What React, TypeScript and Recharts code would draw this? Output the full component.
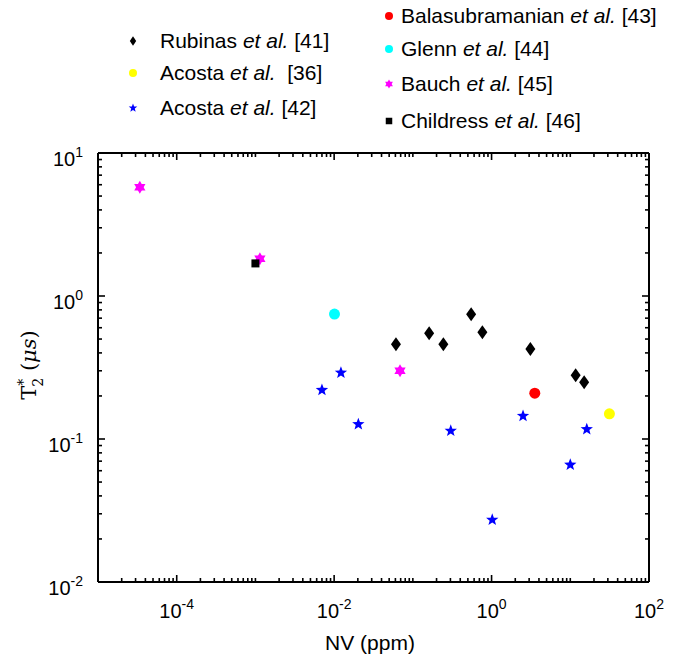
import React from "react";
import { ScatterChart, Scatter, XAxis, YAxis } from "recharts";

// NV concentration (ppm) vs T2* (us)
const rubinasNV = [0.061, 0.161, 0.244, 0.55, 0.764, 3.11, 11.7, 15.0];
const rubinasT2 = [0.459, 0.548, 0.459, 0.745, 0.557, 0.426, 0.279, 0.249];

const acosta36NV = [31.4];
const acosta36T2 = [0.15];

const acosta42NV = [0.007, 0.0122, 0.0203, 0.303, 1.02, 2.51, 10.0, 16.2];
const acosta42T2 = [0.22, 0.291, 0.127, 0.114, 0.0272, 0.145, 0.066, 0.117];

const balaNV = [3.54];
const balaT2 = [0.209];

const glennNV = [0.0101];
const glennT2 = [0.748];

const bauchNV = [3.4e-5, 0.00114, 0.0687];
const bauchT2 = [5.75, 1.82, 0.3];

const childressNV = [0.001];
const childressT2 = [1.69];

const xDomain = [1e-5, 100];
const yDomain = [0.01, 10];
const xLabelExps = [-4, -2, 0, 2];
const yLabelExps = [-2, -1, 0, 1];

const zip = (xs: number[], ys: number[]) => xs.map((x, i) => ({ x, y: ys[i] }));

function logTicks(lo: number, hi: number) {
  const out: number[] = [];
  const e0 = Math.round(Math.log10(lo));
  const e1 = Math.round(Math.log10(hi));
  for (let e = e0; e < e1; e++) {
    for (let m = 1; m <= 9; m++) out.push(m * Math.pow(10, e));
  }
  out.push(Math.pow(10, e1));
  return out;
}
const xTicks = logTicks(xDomain[0], xDomain[1]);
const yTicks = logTicks(yDomain[0], yDomain[1]);

const decade = (v: number) => {
  const l = Math.log10(v);
  return Math.abs(l - Math.round(l)) < 1e-6 ? Math.round(l) : null;
};

const FONT = "Arial, 'Liberation Sans', sans-serif";

// marker shapes
function Diamond({ cx, cy, w = 5, h = 7, color = "#000" }: any) {
  return <path d={`M${cx},${cy - h}L${cx + w},${cy}L${cx},${cy + h}L${cx - w},${cy}Z`} fill={color} />;
}
function Dot({ cx, cy, r = 5.5, color }: any) {
  return <circle cx={cx} cy={cy} r={r} fill={color} />;
}
function Square({ cx, cy, s = 8, color = "#000" }: any) {
  return <rect x={cx - s / 2} y={cy - s / 2} width={s} height={s} fill={color} />;
}
function Star({ cx, cy, r = 6.5, color }: any) {
  const pts: string[] = [];
  for (let i = 0; i < 10; i++) {
    const rr = i % 2 === 0 ? r : r * 0.42;
    const a = -Math.PI / 2 + (i * Math.PI) / 5;
    pts.push(`${cx + rr * Math.cos(a)},${cy + rr * Math.sin(a)}`);
  }
  return <polygon points={pts.join(" ")} fill={color} />;
}
function Hexagram({ cx, cy, r = 6.5, color }: any) {
  const tri = (off: number) => {
    const p: string[] = [];
    for (let i = 0; i < 3; i++) {
      const a = -Math.PI / 2 + off + (i * 2 * Math.PI) / 3;
      p.push(`${cx + r * Math.cos(a)},${cy + r * Math.sin(a)}`);
    }
    return p.join(" ");
  };
  return (
    <g fill={color}>
      <polygon points={tri(0)} />
      <polygon points={tri(Math.PI)} />
    </g>
  );
}

const series = [
  { key: "rub", name: "Rubinas", ref: " [41]", data: zip(rubinasNV, rubinasT2), color: "#000000", Shape: Diamond, small: { w: 3.2, h: 4.8 } },
  { key: "ac36", name: "Acosta", ref: "  [36]", data: zip(acosta36NV, acosta36T2), color: "#ffff00", Shape: Dot, small: { r: 4 } },
  { key: "ac42", name: "Acosta", ref: " [42]", data: zip(acosta42NV, acosta42T2), color: "#0000ff", Shape: Star, small: { r: 4.5 } },
  { key: "bal", name: "Balasubramanian", ref: " [43]", data: zip(balaNV, balaT2), color: "#ff0000", Shape: Dot, small: { r: 4 } },
  { key: "gle", name: "Glenn", ref: " [44]", data: zip(glennNV, glennT2), color: "#00ffff", Shape: Dot, small: { r: 4 } },
  { key: "bau", name: "Bauch", ref: " [45]", data: zip(bauchNV, bauchT2), color: "#ff00ff", Shape: Hexagram, small: { r: 4.5 } },
  { key: "chi", name: "Childress", ref: " [46]", data: zip(childressNV, childressT2), color: "#000000", Shape: Square, small: { s: 6.5 } },
];

// legend layout (chart coords): marker x, text x, row centre y
const legendPos: Record<string, [number, number, number]> = {
  rub: [125, 152, 33],
  ac36: [125, 152, 65],
  ac42: [125, 152, 100],
  bal: [381, 393, 8],
  gle: [381, 393, 41],
  bau: [381, 393, 76],
  chi: [381, 393, 113],
};

function PowLabel({ x, y, exp, anchor }: any) {
  return (
    <text x={x} y={y} textAnchor={anchor} fontFamily={FONT} fontSize={20} fill="#000">
      10
      <tspan dy={-9} fontSize={14}>{exp}</tspan>
    </text>
  );
}

function makeTick(side: "bottom" | "top" | "left" | "right") {
  return (props: any) => {
    const { x, y, payload } = props;
    const v = payload.value;
    const d = decade(v);
    const labeled = d !== null && (side === "bottom" || side === "top" ? xLabelExps : yLabelExps).includes(d);
    const isMajor = labeled || (d !== null && (side === "left" || side === "right"));
    const len = isMajor ? 7 : 4;
    let line;
    if (side === "bottom") line = <line x1={x} y1={y} x2={x} y2={y - len} />;
    else if (side === "top") line = <line x1={x} y1={y} x2={x} y2={y + len} />;
    else if (side === "left") line = <line x1={x} y1={y} x2={x + len} y2={y} />;
    else line = <line x1={x} y1={y} x2={x - len} y2={y} />;
    return (
      <g>
        <g stroke="#000" strokeWidth={1.6}>{line}</g>
        {labeled && side === "bottom" && <PowLabel x={x} y={y + 36} exp={d} anchor="middle" />}
        {labeled && side === "left" && <PowLabel x={x - 15} y={y + 13} exp={d} anchor="end" />}
      </g>
    );
  };
}

const axisLine = { stroke: "#000", strokeWidth: 2 };
const commonX = {
  dataKey: "x",
  type: "number" as const,
  scale: "log" as const,
  domain: xDomain,
  allowDataOverflow: true,
  ticks: xTicks,
  interval: 0 as const,
  tickSize: 0,
  tickMargin: 0,
  tickLine: false,
  axisLine,
};
const commonY = {
  dataKey: "y",
  type: "number" as const,
  scale: "log" as const,
  domain: yDomain,
  allowDataOverflow: true,
  ticks: yTicks,
  interval: 0 as const,
  tickSize: 0,
  tickMargin: 0,
  tickLine: false,
  axisLine,
};

export default function App() {
  const W = 676;
  const H = 653;
  return (
    <div style={{ position: "relative", width: W, height: H }}>
      <ScatterChart width={W} height={H} margin={{ top: 135, right: 25, bottom: 29, left: 30 }}>
        <XAxis xAxisId="b" orientation="bottom" height={50} {...commonX} tick={makeTick("bottom")} />
        <XAxis xAxisId="t" orientation="top" height={10} {...commonX} tick={makeTick("top")} />
        <YAxis yAxisId="l" orientation="left" width={60} {...commonY} tick={makeTick("left")} />
        <YAxis yAxisId="r" orientation="right" width={10} {...commonY} tick={makeTick("right")} />
        {series.map((s) => (
          <Scatter
            key={s.key}
            xAxisId="b"
            yAxisId="l"
            data={s.data}
            isAnimationActive={false}
            shape={(p: any) => <s.Shape cx={p.cx} cy={p.cy} color={s.color} />}
          />
        ))}
        {series.map((s) => (
          <Scatter key={s.key + "-tr"} xAxisId="t" yAxisId="r" data={s.data} isAnimationActive={false} shape={() => <g />} />
        ))}
      </ScatterChart>
      <svg width={W} height={H} style={{ position: "absolute", left: 0, top: 0, pointerEvents: "none", overflow: "visible" }}>
        {series.map((s) => {
          const [mx, tx, cy] = legendPos[s.key];
          return (
            <g key={s.key}>
              <s.Shape cx={mx} cy={cy} color={s.color} {...s.small} />
              <text x={tx} y={cy + 7} fontFamily={FONT} fontSize={21} fill="#000" style={{ whiteSpace: "pre" }}>
                {s.name + " "}
                <tspan fontStyle="italic">et al.</tspan>
                {s.ref}
              </text>
            </g>
          );
        })}
        <text x={362} y={642} textAnchor="middle" fontFamily={FONT} fontSize={21} fill="#000">
          NV (ppm)
        </text>
        <g transform="translate(28,357) rotate(-90)">
          <text x={0} y={0} textAnchor="middle" fontFamily="'DejaVu Serif', 'Liberation Serif', serif" fontSize={21} fill="#000">
            T
            <tspan dy={-8} fontSize={14}>*</tspan>
            <tspan dx={-8} dy={15} fontSize={14}>2</tspan>
            <tspan dy={-7}> (</tspan>
            <tspan fontStyle="italic">μs</tspan>
            <tspan>)</tspan>
          </text>
        </g>
      </svg>
    </div>
  );
}
